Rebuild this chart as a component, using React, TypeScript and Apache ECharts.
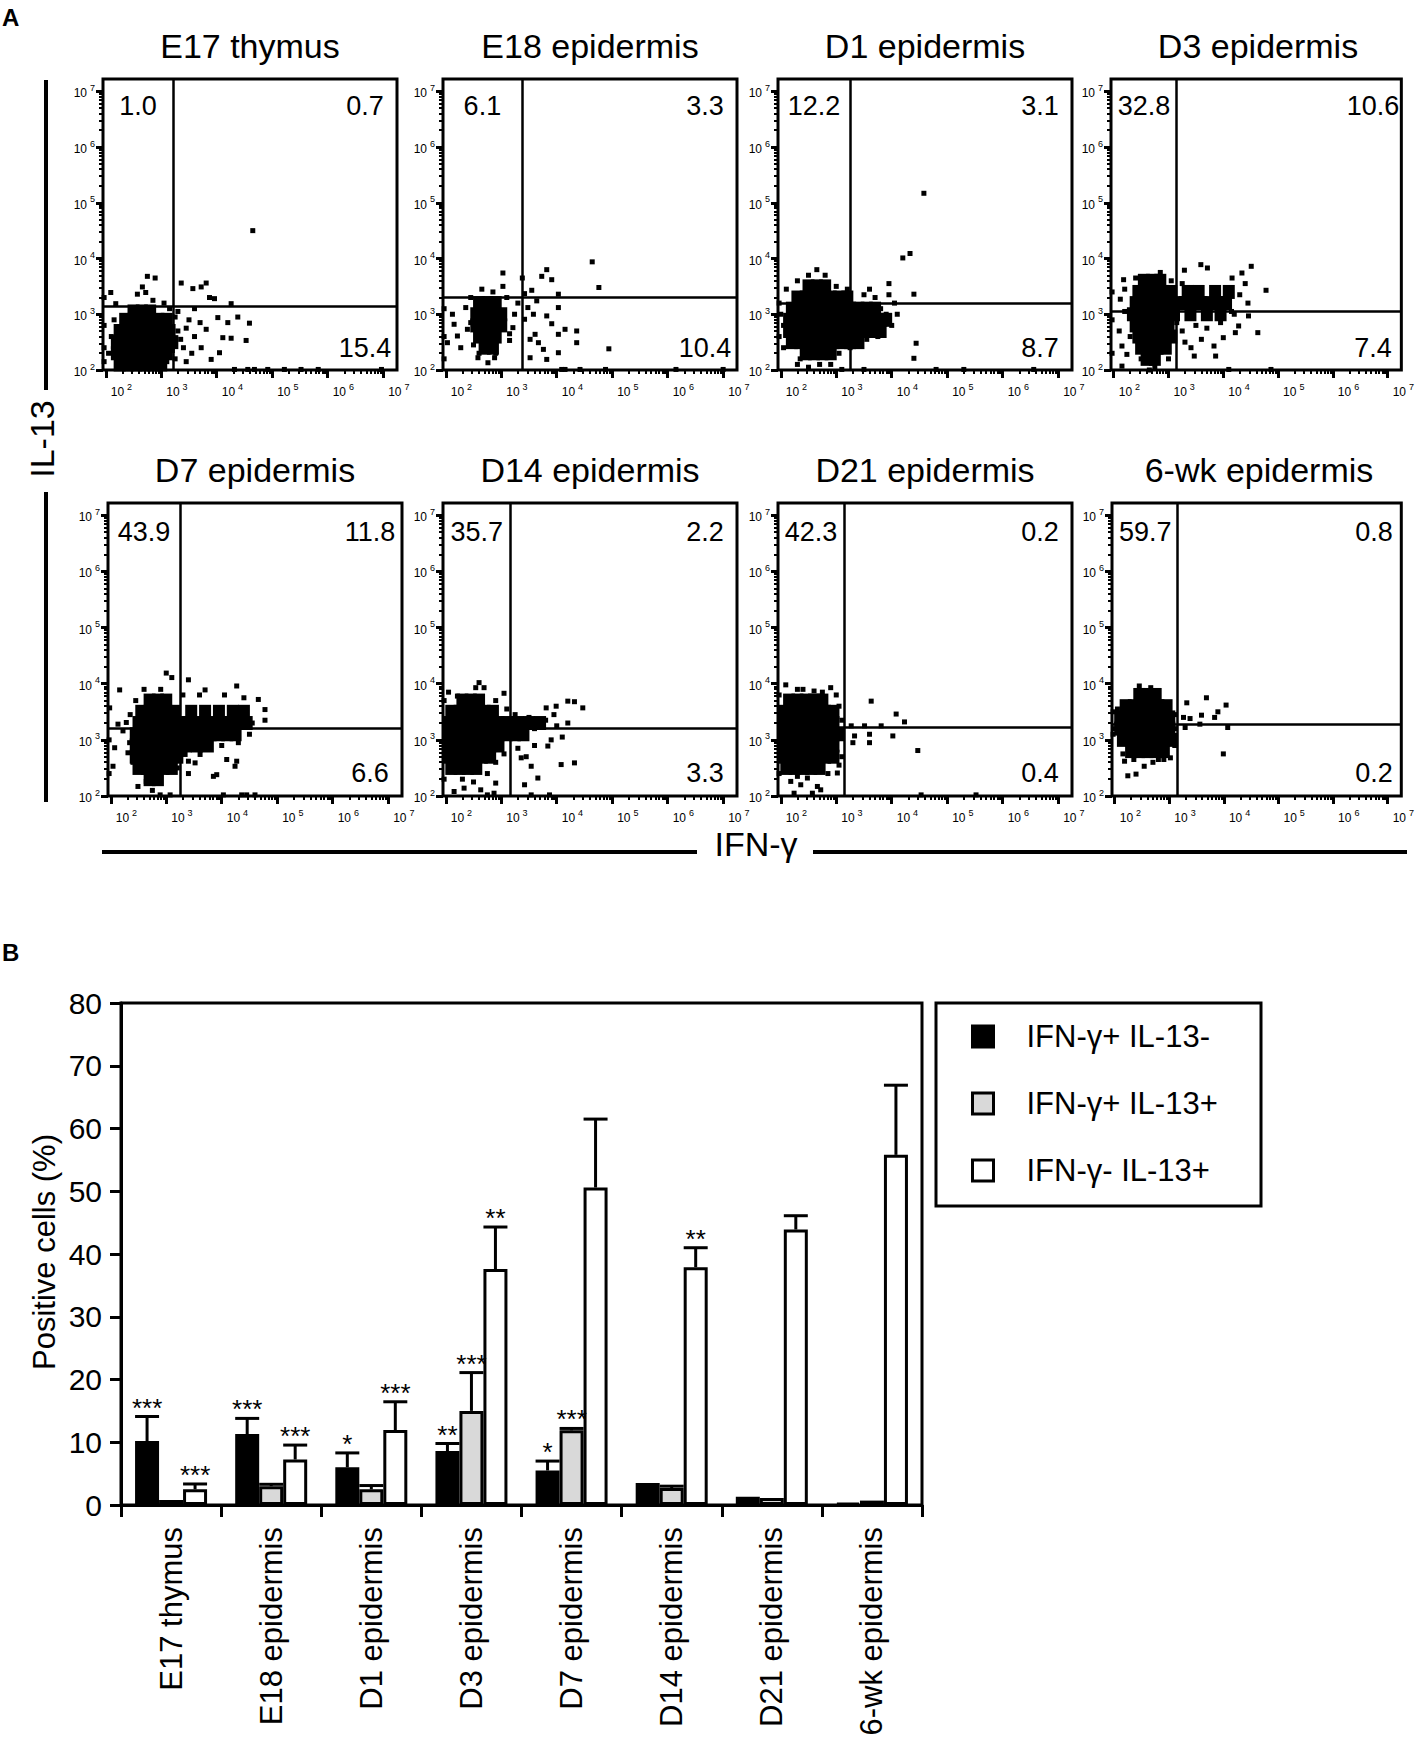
import React, { useEffect, useRef } from "react";
import * as echarts from "echarts";

const FONT = "'Liberation Sans', Arial, Helvetica, sans-serif";

// ---------- Panel A: flow cytometry ----------
const panelTitles = ["E17 thymus", "E18 epidermis", "D1 epidermis", "D3 epidermis", "D7 epidermis", "D14 epidermis", "D21 epidermis", "6-wk epidermis"];
const quadrantUL = ["1.0", "6.1", "12.2", "32.8", "43.9", "35.7", "42.3", "59.7"];
const quadrantUR = ["0.7", "3.3", "3.1", "10.6", "11.8", "2.2", "0.2", "0.8"];
const quadrantLR = ["15.4", "10.4", "8.7", "7.4", "6.6", "3.3", "0.4", "0.2"];
const gateX = [3.21, 3.37, 3.25, 3.14, 3.25, 3.17, 3.14, 3.15];
const gateY = [3.15, 3.3, 3.2, 3.06, 3.21, 3.21, 3.22, 3.27];
const decadeTicks = [2, 3, 4, 5, 6, 7];

// dense cores: rows of [log10 IL-13, [log10 IFN-g ...]]
const denseE17: [number, number[]][] = [
  [2.1, [2.25, 2.4, 2.55, 2.7, 2.85, 3.0]],
  [2.3, [2.2, 2.35, 2.5, 2.65, 2.8, 2.95, 3.1]],
  [2.5, [2.2, 2.35, 2.5, 2.65, 2.8, 2.95, 3.1, 3.2]],
  [2.7, [2.25, 2.4, 2.55, 2.7, 2.85, 3.0, 3.15]],
  [2.9, [2.35, 2.5, 2.65, 2.8, 2.95, 3.1]],
  [3.05, [2.5, 2.65, 2.8]],
];
const denseE18: [number, number[]][] = [
  [2.4, [2.7, 2.85]],
  [2.6, [2.6, 2.75, 2.9]],
  [2.8, [2.55, 2.7, 2.85, 3.0]],
  [3.0, [2.55, 2.7, 2.85, 3.0]],
  [3.2, [2.6, 2.75, 2.9]],
];
const denseD1: [number, number[]][] = [
  [2.3, [2.45, 2.6, 2.75, 2.9]],
  [2.5, [2.2, 2.35, 2.5, 2.65, 2.8, 2.95, 3.1, 3.25, 3.4]],
  [2.7, [2.15, 2.3, 2.45, 2.6, 2.75, 2.9, 3.05, 3.2, 3.35, 3.5, 3.65, 3.8]],
  [2.9, [2.15, 2.3, 2.45, 2.6, 2.75, 2.9, 3.05, 3.2, 3.35, 3.5, 3.65, 3.8, 3.9]],
  [3.1, [2.2, 2.35, 2.5, 2.65, 2.8, 2.95, 3.1, 3.25, 3.4, 3.55, 3.7]],
  [3.3, [2.3, 2.45, 2.6, 2.75, 2.9, 3.05, 3.2]],
  [3.5, [2.5, 2.65, 2.8]],
];
const denseD3: [number, number[]][] = [
  [2.2, [2.6, 2.75]],
  [2.4, [2.5, 2.65, 2.8, 2.95]],
  [2.6, [2.45, 2.6, 2.75, 2.9, 3.05]],
  [2.8, [2.4, 2.55, 2.7, 2.85, 3.0]],
  [3.0, [2.35, 2.5, 2.65, 2.8, 2.95, 3.1, 3.4, 3.7, 3.95]],
  [3.2, [2.4, 2.55, 2.7, 2.85, 3.0, 3.15, 3.3, 3.45, 3.6, 3.75, 3.9, 4.05]],
  [3.4, [2.45, 2.6, 2.75, 2.9, 3.05, 3.35, 3.55, 3.85, 4.1]],
  [3.6, [2.55, 2.7, 2.85]],
];
const denseD7: [number, number[]][] = [
  [2.3, [2.7, 2.85]],
  [2.5, [2.5, 2.65, 2.8, 2.95, 3.1]],
  [2.7, [2.45, 2.6, 2.75, 2.9, 3.05, 3.2]],
  [2.9, [2.45, 2.6, 2.75, 2.9, 3.05, 3.2, 3.35, 3.55, 3.75]],
  [3.1, [2.45, 2.6, 2.75, 2.9, 3.05, 3.2, 3.35, 3.5, 3.65, 3.8, 3.95, 4.1, 4.25]],
  [3.3, [2.5, 2.65, 2.8, 2.95, 3.1, 3.25, 3.4, 3.55, 3.7, 3.85, 4.0, 4.15, 4.3, 4.45]],
  [3.5, [2.55, 2.7, 2.85, 3.0, 3.15, 3.45, 3.7, 3.95, 4.2, 4.4]],
  [3.7, [2.7, 2.85, 3.0]],
];
const denseD14: [number, number[]][] = [
  [2.5, [2.1, 2.25, 2.4, 2.55]],
  [2.7, [2.05, 2.2, 2.35, 2.5, 2.65, 2.8]],
  [2.9, [2.05, 2.2, 2.35, 2.5, 2.65, 2.8, 2.95]],
  [3.1, [2.05, 2.2, 2.35, 2.5, 2.65, 2.8, 2.95, 3.1, 3.25, 3.4]],
  [3.3, [2.05, 2.2, 2.35, 2.5, 2.65, 2.8, 2.95, 3.1, 3.3, 3.5, 3.7]],
  [3.5, [2.1, 2.25, 2.4, 2.55, 2.7, 2.85]],
  [3.7, [2.3, 2.45, 2.6]],
];
const denseD21: [number, number[]][] = [
  [2.5, [2.1, 2.25, 2.4, 2.55, 2.7]],
  [2.7, [2.05, 2.2, 2.35, 2.5, 2.65, 2.8, 2.95]],
  [2.9, [2.05, 2.2, 2.35, 2.5, 2.65, 2.8, 2.95]],
  [3.1, [2.05, 2.2, 2.35, 2.5, 2.65, 2.8, 2.95, 3.05]],
  [3.3, [2.05, 2.2, 2.35, 2.5, 2.65, 2.8, 2.95]],
  [3.5, [2.05, 2.2, 2.35, 2.5, 2.65, 2.8, 2.95]],
  [3.7, [2.15, 2.3, 2.45, 2.6, 2.75]],
];
const dense6wk: [number, number[]][] = [
  [2.8, [2.3, 2.45, 2.6, 2.75, 2.9]],
  [3.0, [2.15, 2.3, 2.45, 2.6, 2.75, 2.9, 3.05]],
  [3.2, [2.1, 2.25, 2.4, 2.55, 2.7, 2.85, 3.0]],
  [3.4, [2.1, 2.25, 2.4, 2.55, 2.7, 2.85, 3.0]],
  [3.6, [2.2, 2.35, 2.5, 2.65, 2.8, 2.95]],
  [3.8, [2.45, 2.6, 2.75]],
];

// sparse events: [log10 IFN-g, log10 IL-13]
const sparseE17 = [[3.36,3.56],[3.57,3.46],[3.72,3.49],[3.81,3.56],[3.87,3.3],[3.96,3.28],[4.26,3.19],[4.38,2.95],[4.59,2.84],[4.53,2.53],[4.26,2.57],[4.11,2.58],[4.2,2.85],[4.02,2.94],[4.05,2.31],[3.9,2.19],[3.72,2.4],[3.81,2.73],[2.09,3.39],[2.18,3.19],[2.75,3.68],[2.89,3.65],[2.66,3.49],[2.57,3.36],[2.72,3.39],[4.65,4.5],[4.32,2.01],[4.56,2.01],[4.68,2.01],[4.92,2.01],[5.22,2.01],[5.52,2.01],[5.83,2.01],[6.97,2.01],[2.1,2.6],[2.05,2.3],[2.15,2.9],[3.3,2.7],[3.4,2.4],[3.5,2.9],[3.3,3.05],[3.25,2.2],[3.45,2.15],[3.6,2.6],[3.55,2.3],[3.7,2.85],[2.2,2.05],[3.05,3.2],[3.15,3.1],[2.85,3.25],[3.35,2.55],[3.45,2.75],[3.6,3.1],[3.25,2.95],[2.25,2.75],[2.2,2.4],[3.2,2.35],[2.95,2.05],[3.1,2.15],[1.97,2.4],[1.97,2.8],[1.97,3.3],[1.97,2.15]];
const sparseE18 = [[3.38,3.65],[3.55,3.43],[3.73,3.68],[3.82,3.8],[3.91,3.62],[4.03,3.36],[4.03,3.12],[3.82,2.97],[3.91,2.83],[3.61,2.64],[3.67,2.49],[3.76,2.37],[3.82,2.19],[4.03,2.31],[4.03,2.64],[4.15,2.73],[4.36,2.7],[4.36,2.49],[4.64,3.94],[4.76,3.48],[4.94,2.38],[3.48,3.12],[3.58,3.0],[3.42,2.91],[3.52,2.55],[3.64,3.24],[3.42,3.37],[3.52,2.22],[3.03,3.74],[2.12,3.0],[2.15,2.82],[2.03,2.49],[2.21,2.61],[2.36,3.12],[2.39,2.73],[2.27,2.4],[2.58,2.22],[2.76,2.13],[2.88,2.22],[3.15,2.53],[3.21,2.76],[3.24,3.0],[3.03,3.5],[4.09,2.01],[4.15,2.01],[4.42,2.01],[4.88,2.01],[6.15,2.01],[7.0,2.01],[2.45,3.3],[2.5,2.45],[3.1,3.3],[2.85,3.4],[2.65,3.45],[3.15,2.65],[2.45,2.85],[3.3,3.2],[2.6,2.3],[2.9,2.3],[1.97,2.6],[1.97,3.1],[1.97,2.2]];
const sparseD1 = [[2.05,2.4],[2.0,3.0],[2.1,3.45],[2.3,3.6],[2.5,3.7],[2.65,3.8],[2.8,3.7],[3.0,3.5],[3.2,3.45],[3.5,3.35],[3.7,3.3],[3.8,3.1],[3.9,3.0],[3.85,2.75],[3.75,2.6],[3.55,2.55],[3.4,2.5],[3.25,2.4],[3.6,3.45],[3.95,3.35],[4.05,3.2],[4.2,4.01],[4.33,4.09],[4.4,3.36],[4.58,5.17],[4.44,2.48],[4.4,2.21],[6.56,2.01],[2.3,2.1],[2.5,2.05],[2.9,2.1],[3.1,2.01],[3.5,2.01],[4.8,2.01],[5.3,2.01],[2.85,2.25],[1.97,2.6],[1.97,3.2],[3.05,2.3],[3.65,2.7],[4.1,3.0],[4.0,2.8],[3.95,3.55],[2.05,2.8],[2.35,2.2],[2.7,2.1]];
const sparseD3 = [[3.59,3.89],[3.71,3.83],[3.29,3.79],[4.51,3.86],[4.78,3.43],[4.63,2.67],[4.46,2.97],[4.28,2.79],[4.22,2.67],[4.0,2.58],[3.83,2.43],[3.86,2.25],[3.47,2.25],[3.41,2.4],[2.24,2.28],[2.15,2.43],[2.12,3.27],[2.18,3.62],[4.16,3.65],[4.34,3.74],[4.87,2.01],[4.1,2.01],[2.15,2.07],[3.25,2.7],[3.5,2.8],[3.7,2.75],[4.15,3.05],[4.3,3.35],[4.4,3.55],[4.2,3.0],[3.95,2.85],[3.6,2.55],[3.3,2.5],[2.1,2.7],[2.2,3.05],[2.2,3.45],[2.4,3.65],[2.85,3.75],[3.05,3.6],[2.5,2.2],[3.0,2.2],[2.75,2.05],[2.65,2.0],[3.15,2.85],[3.25,3.55],[3.9,3.45],[4.45,3.2],[2.3,2.6],[1.97,2.9],[1.97,3.4],[1.97,2.3]];
const sparseD7 = [[3.0,4.19],[3.1,4.11],[3.4,4.07],[2.16,3.89],[4.78,3.54],[4.78,3.35],[4.66,3.72],[4.27,3.96],[3.7,3.89],[2.04,2.53],[2.07,2.86],[1.98,3.57],[2.49,2.17],[2.64,2.26],[2.83,2.23],[3.85,2.35],[3.91,2.38],[4.27,2.62],[4.24,2.53],[4.09,2.65],[3.4,2.62],[3.52,2.59],[3.34,2.74],[3.61,2.74],[4.45,2.02],[4.6,2.02],[4.36,2.02],[4.03,2.02],[2.89,2.02],[3.07,2.02],[2.22,3.16],[2.28,3.31],[2.13,3.28],[2.34,2.95],[2.31,2.77],[3.3,2.9],[3.5,2.85],[3.75,2.95],[4.0,2.9],[4.3,2.95],[4.5,3.1],[4.55,3.3],[4.4,3.75],[4.05,3.8],[3.6,3.8],[3.3,3.8],[2.45,3.7],[2.35,3.45],[2.4,2.6],[3.2,2.5],[3.4,2.4],[2.6,3.9],[2.9,3.9],[2.75,2.1],[1.97,3.0],[1.97,2.4]];
const sparseD14 = [[4.2,3.69],[4.32,3.68],[4.47,3.57],[3.99,3.6],[3.81,3.57],[4.32,2.59],[4.08,2.56],[3.84,2.89],[3.66,2.32],[3.54,2.53],[3.42,2.2],[3.36,2.68],[3.54,2.02],[3.87,2.02],[2.69,3.93],[2.54,3.93],[2.6,4.02],[3.05,3.83],[2.21,3.78],[2.9,2.23],[2.63,2.11],[2.33,2.14],[2.15,2.08],[2.87,2.05],[2.75,2.02],[3.25,3.45],[3.5,3.4],[3.8,3.35],[4.0,3.25],[4.1,3.05],[3.9,3.0],[3.6,2.9],[3.3,2.85],[3.45,2.7],[4.2,3.3],[2.9,3.7],[2.75,2.4],[2.9,2.6],[2.5,2.25],[2.3,2.3],[3.05,2.75],[3.6,3.2],[3.95,3.45],[1.97,2.3],[1.97,3.7],[2.05,3.85],[3.1,3.55]];
const sparseD21 = [[3.27,3.25],[3.33,3.07],[3.51,3.25],[3.6,3.1],[3.3,2.95],[3.6,2.95],[3.63,3.69],[3.81,3.25],[4.02,3.07],[4.08,3.46],[4.23,3.32],[4.47,2.81],[4.53,2.02],[5.52,2.02],[2.09,3.98],[2.3,3.9],[2.6,3.87],[2.9,3.93],[2.18,2.26],[2.36,2.2],[2.48,2.32],[2.66,2.17],[2.72,2.11],[2.57,2.05],[2.24,2.05],[3.02,2.41],[1.97,2.4],[1.97,3.8],[2.4,3.9],[2.75,3.85],[3.05,3.6],[3.1,2.7],[3.05,2.55],[2.85,2.4],[2.3,2.35],[3.1,3.35],[3.0,3.8]];
const sparse6wk = [[2.24,2.36],[2.39,2.39],[2.54,2.53],[2.18,2.62],[3.02,2.68],[3.32,3.66],[3.68,3.75],[3.38,3.38],[3.59,3.44],[3.83,3.4],[3.89,3.5],[4.04,3.62],[4.07,3.22],[3.99,2.75],[3.26,3.4],[3.56,3.28],[2.45,3.96],[2.66,3.93],[3.29,3.22],[2.0,3.2],[2.05,3.55],[2.15,2.75],[3.1,3.2],[3.1,3.45],[2.9,2.65],[3.1,2.9],[2.8,2.65],[2.35,2.65],[2.7,2.6],[1.97,3.1],[1.97,3.5]];

const denseSets = [denseE17, denseE18, denseD1, denseD3, denseD7, denseD14, denseD21, dense6wk];
const sparseSets = [sparseE17, sparseE18, sparseD1, sparseD3, sparseD7, sparseD14, sparseD21, sparse6wk];

// ---------- Panel B: bar chart ----------
const categories = ["E17 thymus", "E18 epidermis", "D1 epidermis", "D3 epidermis", "D7 epidermis", "D14 epidermis", "D21 epidermis", "6-wk epidermis"];
const seriesNames = ["IFN-\u03b3+ IL-13-", "IFN-\u03b3+ IL-13+", "IFN-\u03b3- IL-13+"];
const meanPosNeg = [10.2, 11.3, 6.0, 8.6, 5.5, 3.5, 1.3, 0.3];
const errPosNeg = [3.9, 2.5, 2.3, 1.2, 1.5, 0, 0, 0];
const meanPosPos = [0.8, 3.0, 2.5, 15.0, 11.9, 2.7, 1.1, 0.7];
const errPosPos = [0, 0.3, 0.6, 6.1, 0.3, 0.3, 0, 0];
const meanNegPos = [2.5, 7.25, 11.95, 37.6, 50.6, 37.9, 43.9, 55.8];
const errNegPos = [0.85, 2.3, 4.5, 6.7, 10.9, 3.1, 2.2, 11.1];
const starsPosNeg = ["***", "***", "*", "**", "*", "", "", ""];
const starsPosPos = ["", "", "", "***", "***", "", "", ""];
const starsNegPos = ["***", "***", "***", "**", "", "**", "", ""];
const barColors = ["#000000", "#d9d9d9", "#ffffff"];

// ---------- layout ----------
const W = 1417;
const H = 1745;
const X_MIN = 1.95, X_MAX = 7.25, Y_MIN = 2, Y_MAX = 7.22;
const PANEL_W = 294;
const rowLefts = [[103, 443, 778, 1111], [108, 443, 778, 1112]];
const rowTops = [79, 503];
const rowHeights = [291, 293];
const BAR_W = 24;

function expandRows(rows: [number, number[]][]) {
  const out: number[][] = [];
  rows.forEach(([y, xs]) => xs.forEach((x) => out.push([x, y])));
  return out;
}

function minorLog(lo: number, hi: number) {
  const out: number[] = [];
  for (let n = 1; n <= 7; n++) {
    for (let k = 2; k <= 9; k++) {
      const v = n + Math.log10(k);
      if (v > lo + 0.01 && v < hi - 0.01) out.push(v);
    }
  }
  return out;
}

const richLog = {
  b: { fontSize: 12, fontFamily: FONT, color: "#000", lineHeight: 16, verticalAlign: "bottom" },
  s: { fontSize: 9, fontFamily: FONT, color: "#000", lineHeight: 7, verticalAlign: "top", padding: [0, 0, 0, 3] },
};

function txt(x: number, y: number, text: string, fontSize: number, align = "center", extra: any = {}) {
  return {
    type: "text",
    x,
    y,
    silent: true,
    ...extra,
    style: {
      text,
      fontSize,
      fontFamily: FONT,
      fill: "#000",
      textAlign: align,
      align,
      textVerticalAlign: "middle",
      verticalAlign: "middle",
      fontWeight: extra.fontWeight || "normal",
    },
  };
}

function buildOption() {
  const grid: any[] = [];
  const xAxis: any[] = [];
  const yAxis: any[] = [];
  const series: any[] = [];
  const graphic: any[] = [];
  const minorX = minorLog(X_MIN, X_MAX);
  const minorY = minorLog(Y_MIN, Y_MAX);

  for (let i = 0; i < 8; i++) {
    const row = i < 4 ? 0 : 1;
    const col = i % 4;
    const left = rowLefts[row][col];
    const top = rowTops[row];
    const h = rowHeights[row];
    grid.push({ left, top, width: PANEL_W, height: h, show: true, borderColor: "#000", borderWidth: 3, backgroundColor: "transparent" });
    xAxis.push({
      type: "value", gridIndex: i, min: X_MIN, max: X_MAX, position: "bottom",
      axisLine: { show: false }, splitLine: { show: false },
      axisTick: { show: true, customValues: decadeTicks, length: 8, lineStyle: { color: "#000", width: 3 } },
      axisLabel: { show: true, customValues: decadeTicks, margin: 12, align: "left", padding: [0, 0, 0, 5],
        formatter: (v: number) => `{b|10}{s|${Math.round(v)}}`, rich: richLog },
    });
    xAxis.push({
      type: "value", gridIndex: i, min: X_MIN, max: X_MAX, position: "bottom",
      axisLine: { show: false }, splitLine: { show: false }, axisLabel: { show: false },
      axisTick: { show: true, customValues: minorX, length: 4, lineStyle: { color: "#000", width: 2 } },
    });
    yAxis.push({
      type: "value", gridIndex: i, min: Y_MIN, max: Y_MAX, position: "left",
      axisLine: { show: false }, splitLine: { show: false },
      axisTick: { show: true, customValues: decadeTicks, length: 7, lineStyle: { color: "#000", width: 3 } },
      axisLabel: { show: true, customValues: decadeTicks, margin: 8,
        formatter: (v: number) => `{b|10}{s|${Math.round(v)}}`, rich: richLog },
    });
    yAxis.push({
      type: "value", gridIndex: i, min: Y_MIN, max: Y_MAX, position: "left",
      axisLine: { show: false }, splitLine: { show: false }, axisLabel: { show: false },
      axisTick: { show: true, customValues: minorY, length: 4, lineStyle: { color: "#000", width: 2 } },
    });
    series.push({
      type: "scatter", xAxisIndex: 2 * i, yAxisIndex: 2 * i, data: expandRows(denseSets[i]),
      symbol: "rect", symbolSize: [12, 14], itemStyle: { color: "#000", opacity: 1 }, silent: true,
      markLine: {
        silent: true, symbol: ["none", "none"], label: { show: false }, emphasis: { disabled: true },
        lineStyle: { color: "#000", width: 2.5, type: "solid", opacity: 1 },
        data: [{ xAxis: gateX[i] }, { yAxis: gateY[i] }],
      },
    });
    series.push({
      type: "scatter", xAxisIndex: 2 * i, yAxisIndex: 2 * i, data: sparseSets[i],
      symbol: "rect", symbolSize: 5, itemStyle: { color: "#000", opacity: 1 }, silent: true,
    });

    // titles and quadrant percentages
    const gatePx = left + ((gateX[i] - X_MIN) / (X_MAX - X_MIN)) * PANEL_W;
    const right = left + PANEL_W;
    graphic.push(txt(left + PANEL_W / 2, top - 33, panelTitles[i], 34));
    const upY = top + (row === 0 ? 27 : 29);
    const lowY = top + h - (row === 0 ? 22 : 23);
    graphic.push(txt((left + gatePx) / 2, upY, quadrantUL[i], 27));
    graphic.push(txt(right - 32, upY, quadrantUR[i], 27));
    graphic.push(txt(right - 32, lowY, quadrantLR[i], 27));
  }

  // Bar chart grid (index 8)
  grid.push({ left: 121, top: 1003, width: 801, height: 502, show: true, borderColor: "#000", borderWidth: 3, backgroundColor: "transparent" });
  xAxis.push({
    type: "category", gridIndex: 8, data: categories,
    axisLine: { show: true, lineStyle: { color: "#000", width: 3 } },
    axisTick: { show: true, length: 12, interval: 0, alignWithLabel: false, lineStyle: { color: "#000", width: 3 } },
    axisLabel: { rotate: 90, interval: 0, fontSize: 31, fontFamily: FONT, color: "#000", margin: 22 },
    splitLine: { show: false },
  });
  yAxis.push({
    type: "value", gridIndex: 8, min: 0, max: 80, interval: 10,
    axisLine: { show: true, lineStyle: { color: "#000", width: 3 } },
    axisTick: { show: true, length: 11, lineStyle: { color: "#000", width: 3 } },
    axisLabel: { fontSize: 30, fontFamily: FONT, color: "#000", margin: 19 },
    splitLine: { show: false },
  });
  const means = [meanPosNeg, meanPosPos, meanNegPos];
  const errs = [errPosNeg, errPosPos, errNegPos];
  const stars = [starsPosNeg, starsPosPos, starsNegPos];
  const offsets = [-BAR_W, 0, BAR_W];
  for (let s = 0; s < 3; s++) {
    series.push({
      name: seriesNames[s], type: "bar", xAxisIndex: 16, yAxisIndex: 16, data: means[s],
      barWidth: BAR_W, barGap: "0%",
      itemStyle: { color: barColors[s], borderColor: "#000", borderWidth: 3 },
      silent: true,
    });
  }
  for (let s = 0; s < 3; s++) {
    const m = means[s], e = errs[s], st = stars[s], off = offsets[s];
    series.push({
      type: "custom", name: "err" + s, xAxisIndex: 16, yAxisIndex: 16, z: 10, silent: true,
      data: categories.map((_, i) => [i, m[i], e[i]]),
      renderItem: (params: any, api: any) => {
        const idx = api.value(0);
        const mean = api.value(1);
        const err = api.value(2);
        const base = api.coord([idx, mean]);
        const topP = api.coord([idx, mean + err]);
        const x = base[0] + off;
        const children: any[] = [];
        if (err > 0) {
          children.push({ type: "line", shape: { x1: x, y1: base[1], x2: x, y2: topP[1] }, style: { stroke: "#000", lineWidth: 3 } });
          children.push({ type: "line", shape: { x1: x - BAR_W / 2, y1: topP[1], x2: x + BAR_W / 2, y2: topP[1] }, style: { stroke: "#000", lineWidth: 3 } });
        }
        const label = st[params.dataIndex];
        if (label) {
          children.push({
            type: "text", x: x, y: topP[1] - 9,
            style: { text: label, fontSize: 26, fontFamily: FONT, fill: "#000", textAlign: "center", align: "center", textVerticalAlign: "middle", verticalAlign: "middle" },
          });
        }
        return { type: "group", children };
      },
    });
  }

  // overall labels
  graphic.push(txt(2, 17, "A", 24, "left", { fontWeight: "bold" }));
  graphic.push(txt(2, 952, "B", 24, "left", { fontWeight: "bold" }));
  graphic.push(txt(42, 439, "IL-13", 34, "center", { rotation: Math.PI / 2 }));
  graphic.push(txt(756, 844, "IFN-\u03b3", 34));
  graphic.push(txt(44, 1252, "Positive cells (%)", 31, "center", { rotation: Math.PI / 2 }));
  const lineStyle = { stroke: "#000", lineWidth: 4 };
  graphic.push({ type: "line", silent: true, shape: { x1: 46, y1: 80, x2: 46, y2: 390 }, style: lineStyle });
  graphic.push({ type: "line", silent: true, shape: { x1: 46, y1: 492, x2: 46, y2: 802 }, style: lineStyle });
  graphic.push({ type: "line", silent: true, shape: { x1: 102, y1: 852, x2: 697, y2: 852 }, style: lineStyle });
  graphic.push({ type: "line", silent: true, shape: { x1: 813, y1: 852, x2: 1407, y2: 852 }, style: lineStyle });
  graphic.push({ type: "rect", silent: true, shape: { x: 936, y: 1003, width: 325, height: 203 }, style: { fill: "none", stroke: "#000", lineWidth: 3 } });

  return {
    animation: false,
    backgroundColor: "#fff",
    textStyle: { fontFamily: FONT },
    grid,
    xAxis,
    yAxis,
    series,
    graphic: { elements: graphic },
    legend: {
      data: seriesNames, orient: "vertical", left: 971, top: 1021, padding: 0,
      itemWidth: 21, itemHeight: 21, itemGap: 36, icon: "rect", selectedMode: false,
      itemStyle: { borderColor: "#000", borderWidth: 3 },
      textStyle: { fontSize: 31, fontFamily: FONT, color: "#000", lineHeight: 31, padding: [0, 0, 0, 28] },
    },
  };
}

export default function App() {
  const ref = useRef<HTMLDivElement>(null);
  useEffect(() => {
    document.body.style.margin = "0";
    if (!ref.current) return;
    const chart = echarts.init(ref.current, undefined, { renderer: "svg", width: W, height: H });
    chart.setOption(buildOption() as any);
    return () => chart.dispose();
  }, []);
  return <div ref={ref} style={{ width: W, height: H, background: "#fff" }} />;
}
